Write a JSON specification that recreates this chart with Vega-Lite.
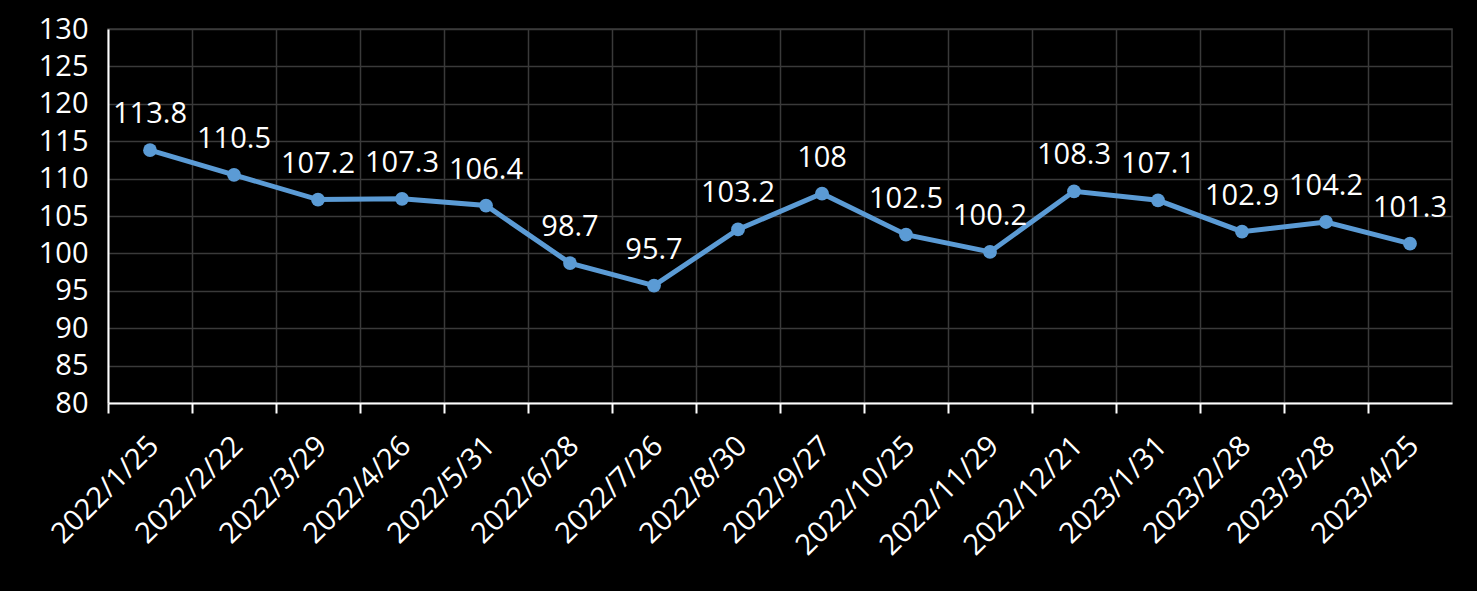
{
  "$schema": "https://vega.github.io/schema/vega-lite/v6.json",
  "width": 1344,
  "height": 374,
  "autosize": {"type": "none"},
  "padding": {"left": 108, "top": 29, "right": 25, "bottom": 188},
  "background": "#000000",
  "view": {"stroke": "#3a3a3a", "strokeWidth": 1.5},
  "config": {
    "font": "Open Sans",
    "axis": {"labelColor": "#ffffff", "labelFont": "Open Sans", "domainColor": "#ffffff", "domainWidth": 2, "tickColor": "#ffffff", "tickWidth": 2, "gridColor": "#3a3a3a", "gridWidth": 1.5, "title": null}
  },
  "data": {
    "values": [
      {"date": "2022/1/25", "v": 113.8},
      {"date": "2022/2/22", "v": 110.5},
      {"date": "2022/3/29", "v": 107.2},
      {"date": "2022/4/26", "v": 107.3},
      {"date": "2022/5/31", "v": 106.4},
      {"date": "2022/6/28", "v": 98.7},
      {"date": "2022/7/26", "v": 95.7},
      {"date": "2022/8/30", "v": 103.2},
      {"date": "2022/9/27", "v": 108},
      {"date": "2022/10/25", "v": 102.5},
      {"date": "2022/11/29", "v": 100.2},
      {"date": "2022/12/21", "v": 108.3},
      {"date": "2023/1/31", "v": 107.1},
      {"date": "2023/2/28", "v": 102.9},
      {"date": "2023/3/28", "v": 104.2},
      {"date": "2023/4/25", "v": 101.3}
    ]
  },
  "encoding": {
    "x": {
      "field": "date", "type": "ordinal", "sort": null,
      "scale": {"type": "band", "paddingInner": 0, "paddingOuter": 0},
      "axis": {"bandPosition": 0, "grid": true, "labelAngle": -45, "labelFontSize": 29, "tickSize": 10, "labelPadding": 28, "labelAlign": "right", "labelBaseline": "middle", "labelOffset": 4}
    },
    "y": {
      "field": "v", "type": "quantitative",
      "scale": {"domain": [80, 130], "nice": false, "zero": false},
      "axis": {"values": [80, 85, 90, 95, 100, 105, 110, 115, 120, 125, 130], "grid": true, "ticks": false, "tickSize": 0, "labelPadding": 20, "labelFontSize": 29, "labelBaseline": "middle"}
    }
  },
  "layer": [
    {"mark": {"type": "line", "color": "#5B9BD5", "strokeWidth": 5}},
    {"mark": {"type": "point", "filled": true, "color": "#5B9BD5", "opacity": 1, "size": 190}},
    {"mark": {"type": "text", "color": "#ffffff", "fontSize": 29, "baseline": "alphabetic", "dy": -27, "font": "Open Sans"}, "encoding": {"text": {"field": "v", "type": "quantitative"}}}
  ]
}
